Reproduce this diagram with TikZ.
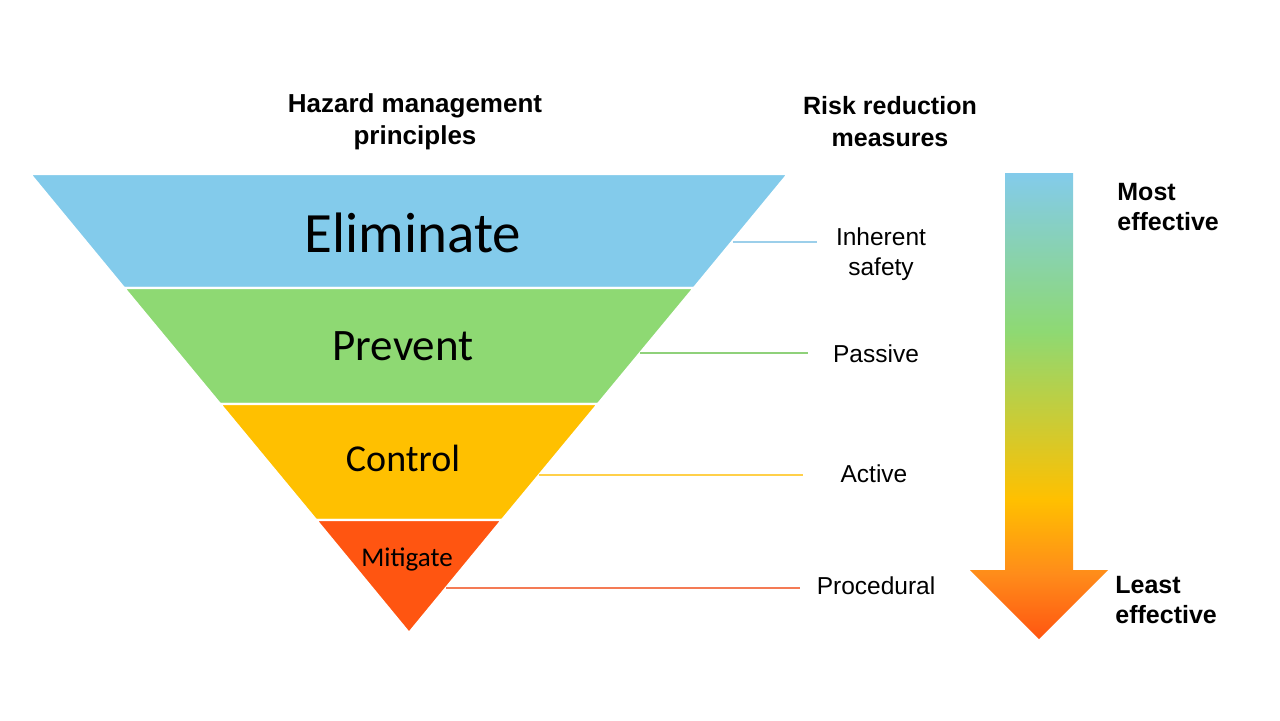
\documentclass[tikz,border=0pt]{standalone}
\usepackage{fontspec}
\setmainfont{Liberation Sans}
\newfontfamily\bandfont{Carlito}
\usetikzlibrary{positioning}
\definecolor{elimblue}{HTML}{83CBEB}
\definecolor{prevgreen}{HTML}{8ED973}
\definecolor{ctrlgold}{HTML}{FFC000}
\definecolor{mitired}{HTML}{FF5511}
\definecolor{headorange}{HTML}{FF8C1A}
\definecolor{lineblue}{HTML}{9CCFEA}
\definecolor{linegreen}{HTML}{8FD17A}
\definecolor{lineyellow}{HTML}{FFD04A}
\definecolor{linered}{HTML}{F47B55}
\pgfdeclareverticalshading{effgrad}{100bp}{color(0bp)=(mitired); color(25bp)=(mitired); color(32bp)=(headorange); color(40bp)=(ctrlgold); color(58bp)=(prevgreen); color(75bp)=(elimblue); color(100bp)=(elimblue)}

\begin{document}
\begin{tikzpicture}[x=0.5pt,y=-0.5pt,
    band/.style={draw=white,line width=1.2pt},
    bandtext/.style={inner sep=0pt,anchor=base},
    measure/.style={font=\fontsize{12.25}{14.7}\selectfont,align=center,inner sep=0pt},
    header/.style={font=\bfseries\fontsize{13}{16}\selectfont,align=center,inner sep=0pt},
    effect/.style={font=\bfseries\fontsize{12.5}{15}\selectfont,align=left,inner sep=0pt,anchor=west},
    leader/.style={line width=1pt}]
  \useasboundingbox (0,0) rectangle (1280,720);
  % triangle of principles
  \path[band,fill=elimblue] (30,174) -- (788,174) -- (694,288) -- (124,288) -- cycle;
  \path[band,fill=prevgreen] (124,288) -- (694,288) -- (598,404) -- (220,404) -- cycle;
  \path[band,fill=ctrlgold] (220,404) -- (598,404) -- (502,520) -- (316,520) -- cycle;
  \path[band,fill=mitired] (316,520) -- (502,520) -- (409,633) -- cycle;
  \node[bandtext,font=\bandfont\fontsize{28.5}{34}\selectfont] (elim) at (413,252) {Eliminate};
  \node[bandtext,font=\bandfont\fontsize{22.5}{27}\selectfont] (prev) at (403,360) {Prevent};
  \node[bandtext,font=\bandfont\fontsize{19}{23}\selectfont] (ctrl) at (403,471) {Control};
  \node[bandtext,font=\bandfont\fontsize{13.5}{16}\selectfont] (miti) at (407,566) {Mitigate};
  % headers
  \node[header] (haz) at (415,122) {Hazard management\\principles};
  \node[header,font=\bfseries\fontsize{12.5}{16}\selectfont] (risk) at (890,122) {Risk reduction\\measures};
  % measures
  \node[measure] (inh) at (881,254) {Inherent\\safety};
  \node[measure] (pas) at (876,354) {Passive};
  \node[measure] (act) at (874,474) {Active};
  \node[measure] (proc) at (876,586) {Procedural};
  \coordinate (inhA) at (733,242); \coordinate (inhB) at (817,242);
  \coordinate (pasA) at (640,353); \coordinate (pasB) at (808,353);
  \coordinate (actA) at (539,475); \coordinate (actB) at (803,475);
  \coordinate (procA) at (446,588); \coordinate (procB) at (800,588);
  \draw[leader,lineblue] (inhA) -- (inhB);
  \draw[leader,linegreen] (pasA) -- (pasB);
  \draw[leader,lineyellow] (actA) -- (actB);
  \draw[leader,linered] (procA) -- (procB);
  % effectiveness arrow
  \shade[shading=effgrad] (1005,173) -- (1073,173) -- (1073,570) -- (1108,570) -- (1039,639) -- (970,570) -- (1005,570) -- cycle;
  \node[effect] (most) at (1117,207) {Most\\effective};
  \node[effect] (least) at (1115,600) {Least\\effective};
\end{tikzpicture}
\end{document}
